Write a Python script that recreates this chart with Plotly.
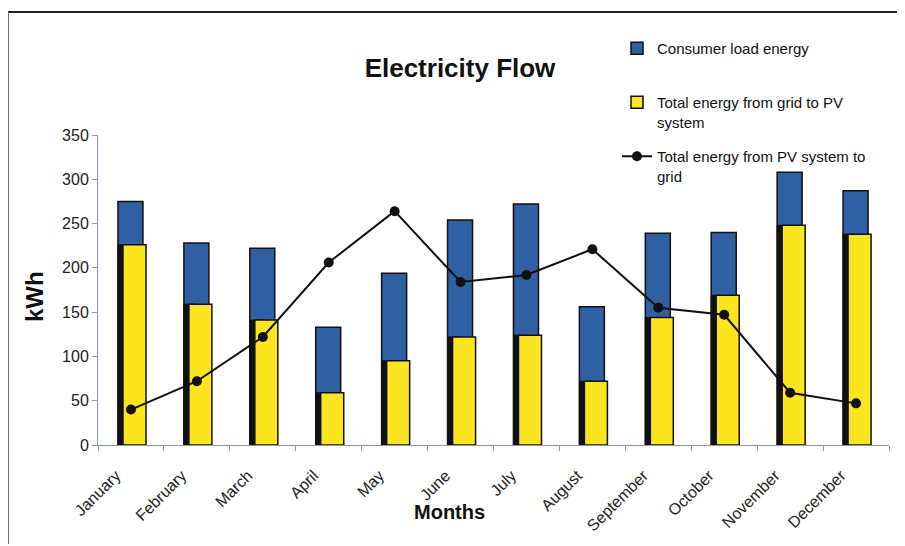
import plotly.graph_objects as go

months = ["January", "February", "March", "April", "May", "June", "July",
          "August", "September", "October", "November", "December"]
consumer_load = [275, 228, 222, 133, 194, 254, 272, 156, 239, 240, 308, 287]
grid_to_pv = [226, 159, 141, 59, 95, 122, 124, 72, 144, 169, 248, 238]
pv_to_grid = [40, 72, 122, 206, 264, 184, 192, 221, 155, 147, 59, 47]

# page has an 8px body margin; work in reference pixel coords and convert
OFF = 8
W, H = 905 - OFF, 546 - OFF
L = 98 - OFF
R = W - (889 - OFF)
T = 135 - OFF
B = H - (445 - OFF)
pw, ph = W - L - R, H - T - B


def px(x):
    return (x - OFF - L) / pw


def py(y):
    return (H - B - (y - OFF)) / ph


fig = go.Figure()
fig.add_trace(go.Bar(
    x=months, y=consumer_load, name="Consumer load energy<br> ",
    marker=dict(color="#2F60A3", line=dict(color="#111111", width=1.5)),
    offset=-0.197, width=0.379, legendgroup="a"))
fig.add_trace(go.Bar(
    x=months, y=grid_to_pv, showlegend=False, hoverinfo="skip",
    marker=dict(color="#111111", line=dict(color="#111111", width=1)),
    offset=-0.197, width=0.2, legendgroup="b"))
fig.add_trace(go.Bar(
    x=months, y=grid_to_pv, name="Total energy from grid to PV<br>system",
    marker=dict(color="#FBE51E", line=dict(color="#111111", width=1.5)),
    offset=-0.121, width=0.349, legendgroup="b"))
fig.add_trace(go.Scatter(
    x=months, y=pv_to_grid, mode="lines+markers",
    name="Total energy from PV system to<br>grid",
    line=dict(color="#111111", width=2),
    marker=dict(color="#111111", size=10), legendgroup="c"))

shapes = [
    dict(type="line", xref="paper", yref="paper", x0=px(7), x1=px(920),
         y0=py(12), y1=py(12), line=dict(color="#222222", width=2)),
    dict(type="line", xref="paper", yref="paper", x0=px(8), x1=px(8),
         y0=py(12), y1=py(544), line=dict(color="#777777", width=2)),
]

annotations = [
    dict(text="<b>kWh</b>", xref="paper", yref="paper", x=px(34), y=py(297),
         xanchor="center", yanchor="middle",
         textangle=-90, showarrow=False, font=dict(size=24, color="#111111")),
    dict(text="<b>Months</b>", xref="paper", yref="paper", x=px(449), y=py(512),
         xanchor="center", yanchor="middle",
         showarrow=False, font=dict(size=20, color="#111111")),
]

fig.update_layout(
    width=W, height=H,
    margin=dict(l=L, r=R, t=T, b=B),
    paper_bgcolor="white", plot_bgcolor="white",
    barmode="overlay",
    font=dict(family="Liberation Sans, Arial", color="#222222", size=14),
    title=dict(text="<b>Electricity Flow</b>", x=(460 - OFF) / W,
               y=1 - (68 - OFF) / H, xanchor="center", yanchor="middle",
               font=dict(size=26, color="#111111")),
    legend=dict(x=px(617), y=py(32), xanchor="left", yanchor="top",
                bgcolor="rgba(0,0,0,0)", font=dict(size=15, color="#111111"),
                tracegroupgap=12, valign="top", traceorder="grouped"),
    shapes=shapes, annotations=annotations,
    xaxis=dict(range=[-0.5, 11.5], showline=True, linecolor="#8A98B0",
               linewidth=1, ticks="outside", tickson="boundaries",
               ticklen=5, tickcolor="#8A98B0", tickangle=-45,
               ticklabelstandoff=14, ticklabelshift=-15,
               tickfont=dict(size=16, color="#222222"), showgrid=False,
               zeroline=False),
    yaxis=dict(range=[0, 350], dtick=50, showline=True, linecolor="#8A98B0",
               linewidth=1, ticks="outside", ticklen=5, tickcolor="#8A98B0",
               tickfont=dict(size=16, color="#222222"), showgrid=False,
               zeroline=False),
)

fig.write_html("out.html")
